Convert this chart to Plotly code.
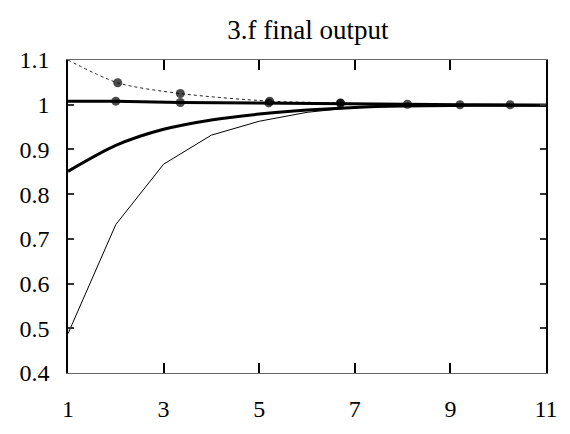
import plotly.graph_objects as go

# ---- data ----
x_int = [1, 2, 3, 4, 5, 6, 7, 8, 9, 10, 11]
thin_y = [0.488, 0.732, 0.867, 0.932, 0.963, 0.983, 0.994, 0.998, 0.999, 0.999, 0.999]
thick_y = [0.851, 0.909, 0.945, 0.966, 0.979, 0.988, 0.994, 0.997, 0.998, 0.999, 0.999]

dashed_x = [1, 2.04, 3.35, 5.22, 6.7, 8.1, 9.2, 10.25, 11]
dashed_y = [1.1, 1.049, 1.025, 1.008, 1.004, 1.001, 1.0, 1.0, 1.0]
dashed_msize = [0, 9, 9, 9, 9, 9, 9, 9, 0]

top_x = [1, 2.0, 3.35, 5.2, 6.7, 8.1, 9.2, 10.25, 11]
top_y = [1.008, 1.008, 1.005, 1.004, 1.003, 1.001, 1.0, 1.0, 0.999]
top_msize = [0, 9, 9, 9, 9, 0, 0, 0, 0]

x_ticks = [1, 3, 5, 7, 9, 11]
x_ticktext = ["1", "3", "5", "7", "9", "11"]
y_ticks = [0.4, 0.5, 0.6, 0.7, 0.8, 0.9, 1.0, 1.1]
y_ticktext = ["0.4", "0.5", "0.6", "0.7", "0.8", "0.9", "1", "1.1"]

title_text = "3.f final output"

fig = go.Figure()
fig.add_trace(go.Scatter(x=x_int, y=thin_y, mode="lines",
                         line=dict(color="black", width=1)))
fig.add_trace(go.Scatter(x=x_int, y=thick_y, mode="lines",
                         line=dict(color="black", width=3, shape="spline", smoothing=0.8)))
fig.add_trace(go.Scatter(x=dashed_x, y=dashed_y, mode="lines+markers",
                         line=dict(color="#222", width=1, dash="dot", shape="spline", smoothing=0.8),
                         marker=dict(color="black", size=dashed_msize, line=dict(width=0))))
fig.add_trace(go.Scatter(x=top_x, y=top_y, mode="lines+markers",
                         line=dict(color="black", width=3),
                         marker=dict(color="black", size=top_msize, line=dict(width=0))))

font_family = "Liberation Serif, Times New Roman, serif"

fig.update_layout(
    width=570, height=434,
    margin=dict(l=68, r=22, t=60, b=56),
    paper_bgcolor="white", plot_bgcolor="white",
    showlegend=False,
    font=dict(family=font_family, size=24, color="black"),
    title=dict(text=title_text, x=0.54, xanchor="center",
               y=1 - 30 / 434, yanchor="middle", yref="container",
               font=dict(family=font_family, size=27, color="black")),
)
fig.update_xaxes(range=[1, 11], tickvals=x_ticks, ticktext=x_ticktext,
                 showgrid=False, zeroline=False,
                 showline=True, linecolor="#666", linewidth=1, mirror="ticks",
                 ticks="inside", ticklen=10, tickcolor="black", tickwidth=1.5,
                 ticklabelstandoff=14)
fig.update_yaxes(range=[0.4, 1.1], tickvals=y_ticks, ticktext=y_ticktext,
                 showgrid=False, zeroline=False,
                 showline=True, linecolor="black", linewidth=1.5, mirror="ticks",
                 ticks="inside", ticklen=6, tickcolor="#333", tickwidth=1.5,
                 ticklabelstandoff=12)

fig.write_html("out.html", config={"displayModeBar": False},
               post_script="document.body.style.margin='0';")
